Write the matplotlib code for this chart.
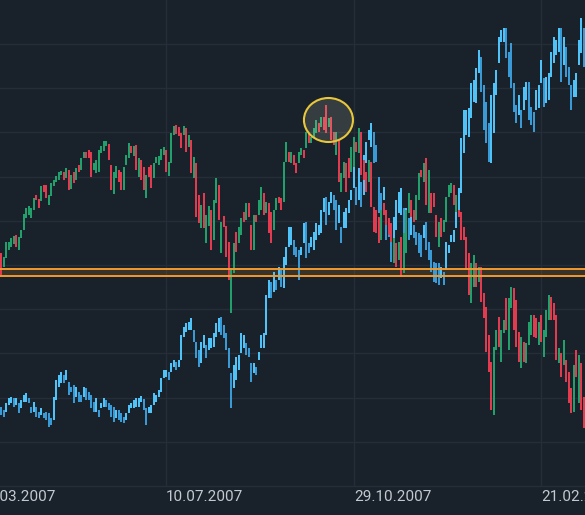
import numpy as np
import matplotlib
matplotlib.use("Agg")
import matplotlib.pyplot as plt
from matplotlib.patches import Ellipse

# --- series A (red / green candles): open and close per bar ---
a_open = [233, 219, 228, 236, 239, 242, 251, 236, 248, 256, 268, 271, 268, 276, 291, 287, 285, 301, 301, 281,
          290, 300, 304, 306, 311, 314, 308, 316, 297, 314, 306, 321, 316, 328, 334, 336, 334, 316, 313, 314,
          333, 335, 340, 342, 321, 292, 308, 316, 314, 296, 321, 328, 340, 330, 341, 309, 326, 319, 288, 319,
          321, 308, 323, 321, 326, 331, 336, 310, 323, 351, 361, 359, 353, 351, 358, 339, 346, 308, 323, 291,
          258, 293, 243, 260, 276, 246, 283, 301, 233, 270, 260, 244, 173, 213, 254, 243, 251, 274, 266, 283,
          261, 236, 271, 271, 276, 293, 273, 283, 274, 256, 276, 289, 288, 284, 324, 334, 323, 331, 323, 323,
          331, 336, 338, 353, 343, 349, 353, 363, 359, 369, 381, 359, 369, 354, 331, 346, 294, 308, 323, 328,
          314, 319, 344, 333, 354, 326, 314, 304, 324, 279, 276, 269, 246, 283, 276, 268, 263, 223, 243, 226,
          249, 213, 233, 273, 286, 276, 266, 286, 316, 304, 328, 273, 293, 293, 271, 239, 268, 254, 264, 289,
          293, 301, 274, 276, 274, 259, 249, 233, 183, 199, 223, 204, 219, 193, 179, 151, 124, 71, 136, 169,
          124, 153, 188, 136, 178, 198, 186, 154, 118, 144, 123, 141, 151, 171, 168, 141, 171, 129, 149, 166,
          189, 183, 171, 123, 133, 121, 126, 114, 98, 74, 136, 83, 123, 89]
a_close = [211, 229, 244, 244, 248, 250, 239, 249, 256, 272, 278, 280, 278, 288, 286, 278, 300, 294, 288, 291,
           303, 306, 310, 314, 315, 306, 318, 296, 311, 303, 318, 314, 328, 334, 328, 328, 309, 323, 326, 336,
           340, 345, 345, 326, 296, 314, 320, 304, 296, 319, 331, 343, 333, 340, 316, 328, 306, 296, 311, 309,
           298, 323, 329, 330, 337, 339, 314, 324, 353, 360, 352, 350, 338, 360, 334, 351, 313, 329, 269, 263,
           281, 258, 271, 280, 236, 286, 308, 266, 264, 259, 229, 206, 218, 243, 234, 259, 268, 264, 283, 269,
           236, 271, 264, 286, 299, 271, 284, 253, 243, 276, 288, 283, 276, 324, 344, 324, 334, 321, 313, 334,
           338, 328, 354, 343, 349, 358, 366, 354, 369, 356, 353, 368, 346, 341, 354, 304, 313, 324, 294, 308,
           339, 349, 334, 358, 311, 306, 294, 326, 279, 254, 253, 243, 276, 271, 261, 251, 244, 248, 219, 244,
           209, 253, 276, 293, 269, 264, 291, 313, 309, 323, 281, 316, 273, 279, 249, 264, 249, 266, 289, 301,
           303, 281, 291, 269, 246, 246, 216, 191, 223, 231, 199, 219, 184, 168, 134, 114, 76, 139, 156, 139,
           156, 166, 156, 188, 199, 156, 139, 124, 149, 124, 143, 164, 171, 149, 148, 164, 144, 156, 176, 191,
           166, 166, 126, 138, 109, 146, 104, 83, 73, 121, 109, 131, 76, 58]

# --- series B (blue candles): body low / high per bar ---
b_low = [71, 69, 74, 81, 83, 79, 81, 73, 78, 84, 84, 83, 73, 74, 69, 68, 71, 68, 66, 59,
         61, 66, 86, 99, 103, 103, 106, 91, 94, 83, 89, 84, 84, 89, 86, 86, 78, 74, 74, 69,
         78, 79, 79, 76, 69, 64, 68, 66, 64, 63, 66, 73, 78, 78, 79, 79, 84, 76, 61, 73,
         73, 81, 84, 89, 94, 108, 109, 106, 114, 119, 116, 119, 126, 149, 154, 156, 156, 144, 128, 119,
         123, 138, 128, 136, 138, 139, 149, 154, 151, 148, 136, 118, 78, 98, 106, 116, 133, 138, 131, 129,
         104, 113, 111, 126, 138, 138, 151, 188, 188, 194, 196, 206, 199, 198, 221, 239, 241, 231, 229, 206,
         231, 243, 228, 233, 239, 236, 246, 251, 253, 274, 261, 271, 283, 276, 256, 263, 243, 258, 258, 273,
         286, 298, 281, 286, 279, 291, 323, 346, 339, 323, 324, 273, 276, 286, 246, 249, 224, 239, 256, 273,
         271, 251, 256, 246, 251, 248, 241, 233, 229, 248, 236, 226, 214, 204, 203, 201, 208, 201, 216, 233,
         244, 244, 258, 276, 293, 333, 351, 349, 368, 384, 383, 413, 394, 356, 343, 324, 323, 353, 391, 423,
         444, 444, 428, 409, 398, 374, 363, 371, 358, 376, 386, 366, 361, 354, 376, 378, 403, 379, 383, 386,
         409, 423, 431, 434, 404, 421, 409, 401, 376, 389, 389, 421, 433, 419]
b_high = [79, 76, 83, 88, 89, 88, 88, 83, 86, 91, 93, 88, 79, 84, 79, 74, 78, 73, 74, 73,
          68, 89, 106, 111, 114, 111, 116, 104, 99, 101, 99, 94, 91, 99, 98, 94, 91, 84, 88, 76,
          83, 88, 86, 83, 81, 79, 76, 76, 73, 69, 73, 81, 83, 86, 88, 88, 90, 87, 78, 79,
          81, 93, 91, 96, 108, 116, 116, 114, 123, 126, 124, 126, 151, 159, 163, 164, 168, 156, 144, 136,
          144, 151, 141, 148, 148, 153, 163, 168, 169, 161, 153, 138, 113, 121, 129, 131, 153, 151, 143, 138,
          123, 123, 119, 134, 151, 153, 191, 206, 204, 214, 206, 219, 216, 229, 239, 259, 259, 246, 239, 236,
          239, 263, 264, 243, 249, 254, 263, 261, 276, 288, 289, 284, 294, 291, 286, 281, 259, 274, 278, 286,
          296, 319, 299, 318, 304, 331, 344, 356, 363, 354, 341, 309, 293, 299, 269, 263, 258, 269, 286, 294,
          298, 278, 278, 268, 273, 261, 254, 253, 251, 261, 264, 244, 236, 224, 223, 223, 219, 214, 244, 241,
          251, 256, 291, 298, 348, 376, 376, 378, 403, 406, 418, 436, 429, 401, 384, 363, 391, 403, 416, 449,
          456, 458, 458, 434, 443, 403, 381, 391, 376, 399, 404, 404, 379, 374, 396, 401, 426, 408, 409, 413,
          434, 449, 446, 458, 458, 449, 439, 419, 401, 406, 413, 446, 468, 458]

tick_labels = ["20.03.2007", "10.07.2007", "29.10.2007", "21.02.2008"]
tick_pos = [-9.3, 65.9, 141.1, 215.9]
level_low, level_high = 210.3, 217.3
grid_levels = [44.2, 88.4, 132.6, 176.8, 221.0, 265.2, 309.4, 353.6, 397.8, 442.0]

bg = "#19212a"
grid_c = "#252e38"
up_c = "#22a06b"
down_c = "#e23a4e"
blue_up = "#4fc3f7"
blue_dn = "#3a9ad6"

fig = plt.figure(figsize=(5.85, 5.15), dpi=100, facecolor=bg)
ax = fig.add_axes([0, 29 / 515, 1, 486 / 515])
ax.set_facecolor(bg)

n = len(a_open)
x = np.arange(n)
ax.set_xlim(-0.48, 233.52)
ax.set_ylim(0, 486)

for g in grid_levels:
    ax.axhline(g, color=grid_c, lw=1, zorder=0)
for p in tick_pos:
    ax.axvline(p, color=grid_c, lw=1, zorder=0)

# support band
ax.axhspan(level_low, level_high, color="#f29a2e", alpha=0.14, lw=0, zorder=1)
ax.axhline(level_low, color="#f29a2e", lw=1.4, zorder=4)
ax.axhline(level_high, color="#f29a2e", lw=1.4, zorder=4)

# blue series
b_low_a = np.array(b_low)
b_high_a = np.array(b_high)
mid = (b_low_a + b_high_a) / 2
b_cols = [blue_up if i > 0 and mid[i] >= mid[i - 1] else blue_dn for i in range(n)]
ax.bar(x, b_high_a - b_low_a, bottom=b_low_a, width=0.8, color=b_cols, lw=0, zorder=2)

# red/green series
ao = np.array(a_open)
ac = np.array(a_close)
a_cols = [up_c if c >= o else down_c for o, c in zip(ao, ac)]
ax.bar(x, np.abs(ac - ao), bottom=np.minimum(ao, ac), width=0.8, color=a_cols, lw=0, zorder=3)

# highlighted top
ax.add_patch(Ellipse((130.9, 366), 19.6, 44, facecolor=(1, 1, 0.85, 0.13),
                     edgecolor="#e8c73a", lw=1.5, zorder=5))

for s in ax.spines.values():
    s.set_visible(False)
ax.set_xticks([])
ax.set_yticks([])

# bottom time scale
fig.add_artist(plt.Line2D([0, 1], [29 / 515, 29 / 515], color=grid_c, lw=1))
for p, lab in zip(tick_pos, tick_labels):
    xf = (p + 0.48) / 234.0
    fig.text(xf, 18 / 515, lab, ha="left", va="center", color="#c4c9cf",
             fontsize=11, family=["Roboto", "DejaVu Sans"])

fig.savefig("out.png", dpi=100, facecolor=bg)
